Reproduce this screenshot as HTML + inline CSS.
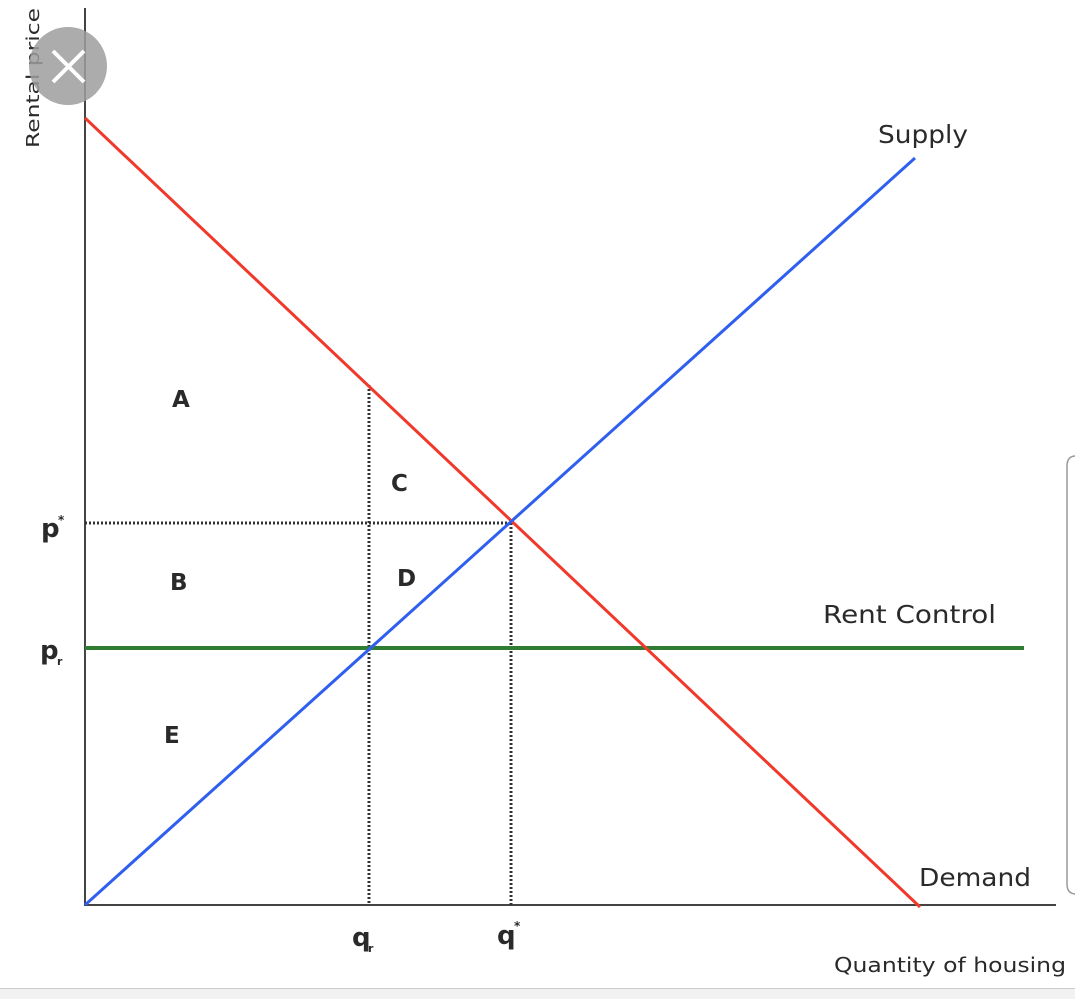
<!DOCTYPE html>
<html><head><meta charset="utf-8"><style>
html,body{margin:0;padding:0;background:#fff;width:1075px;height:999px;overflow:hidden}
svg{display:block}
text{font-family:"DejaVu Sans","Liberation Sans",sans-serif;fill:#2a2a2a}
</style></head><body>
<svg width="1075" height="999" viewBox="0 0 1075 999">
<rect width="1075" height="999" fill="#fff"/>
<line x1="85" y1="8" x2="85" y2="906" stroke="#444" stroke-width="2"/>
<line x1="84" y1="905" x2="1056" y2="905" stroke="#444" stroke-width="2"/>
<line x1="85" y1="523" x2="511" y2="523" stroke="#333" stroke-width="3" stroke-dasharray="2,2"/>
<line x1="369" y1="385" x2="369" y2="905" stroke="#333" stroke-width="3" stroke-dasharray="2,2"/>
<line x1="511" y1="523" x2="511" y2="905" stroke="#333" stroke-width="3" stroke-dasharray="2,2"/>
<line x1="85" y1="648" x2="1024" y2="648" stroke="#2e7d32" stroke-width="4"/>
<line x1="85" y1="118" x2="920" y2="907" stroke="#f0392b" stroke-width="3"/>
<line x1="85" y1="905" x2="915" y2="158" stroke="#2f5ff0" stroke-width="3"/>
<text x="878" y="143" font-size="25" textLength="90" lengthAdjust="spacingAndGlyphs">Supply</text>
<text x="823" y="623" font-size="25" textLength="173" lengthAdjust="spacingAndGlyphs">Rent Control</text>
<text x="919" y="886" font-size="25" textLength="112" lengthAdjust="spacingAndGlyphs">Demand</text>
<text x="834" y="972" font-size="20" textLength="232" lengthAdjust="spacingAndGlyphs">Quantity of housing</text>
<text transform="translate(39,148) rotate(-90)" font-size="18" textLength="140" lengthAdjust="spacingAndGlyphs">Rental price</text>
<text x="172" y="407" font-size="23" font-weight="bold">A</text>
<text x="391" y="491" font-size="23" font-weight="bold">C</text>
<text x="170" y="590" font-size="23" font-weight="bold">B</text>
<text x="397" y="586" font-size="23" font-weight="bold">D</text>
<text x="164" y="743" font-size="23" font-weight="bold">E</text>
<text x="41" y="537" font-size="26" font-weight="bold">p</text>
<text x="58" y="524" font-size="12" font-weight="bold">*</text>
<text x="40" y="659" font-size="26" font-weight="bold">p</text>
<text x="57" y="665" font-size="11" font-weight="bold">r</text>
<text x="352" y="946" font-size="26" font-weight="bold">q</text>
<text x="368" y="952" font-size="11" font-weight="bold">r</text>
<text x="497" y="944" font-size="26" font-weight="bold">q</text>
<text x="514" y="930" font-size="12" font-weight="bold">*</text>
<circle cx="68" cy="66" r="39" fill="#9e9e9e" fill-opacity="0.85"/>
<line x1="53" y1="51" x2="84" y2="82" stroke="#fff" stroke-width="4"/>
<line x1="84" y1="51" x2="53" y2="82" stroke="#fff" stroke-width="4"/>
<path d="M1080 456 L1076 456 Q1067 456 1067 466 L1067 884 Q1067 894 1076 894 L1080 894" fill="none" stroke="#999" stroke-width="1.5"/>
<rect x="0" y="988" width="1075" height="11" fill="#f2f2f2"/>
<line x1="0" y1="988.5" x2="1075" y2="988.5" stroke="#ccc" stroke-width="1"/>
</svg>
</body></html>
